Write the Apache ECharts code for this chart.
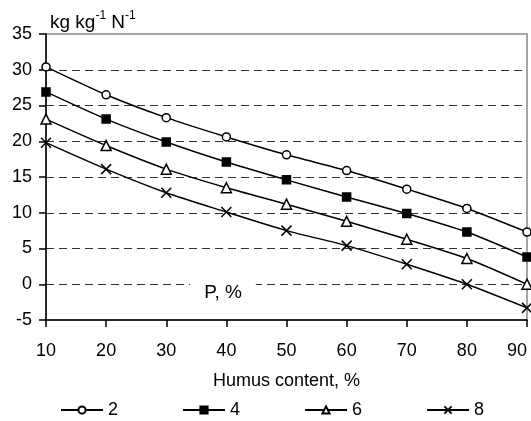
<!DOCTYPE html>
<html>
<head>
<meta charset="utf-8">
<style>html,body{margin:0;padding:0;background:#fff;}#c{width:531px;height:421px;}</style>
<script src="https://cdn.jsdelivr.net/npm/echarts@6/dist/echarts.min.js"></script>
</head>
<body>
<div id="c"></div>
<script>
const humus = [10, 20, 30, 40, 50, 60, 70, 80, 90];
const seriesNames = ['2', '4', '6', '8'];
const p2 = [30.4, 26.5, 23.3, 20.6, 18.1, 15.9, 13.3, 10.6, 7.3];
const p4 = [26.9, 23.1, 19.9, 17.1, 14.6, 12.2, 9.9, 7.3, 3.8];
const p6 = [23.1, 19.4, 16.1, 13.5, 11.2, 8.8, 6.3, 3.6, 0.0];
const p8 = [19.8, 16.1, 12.8, 10.1, 7.5, 5.4, 2.8, 0.0, -3.3];
const yMin = -5, yMax = 35, yStep = 5;
const xMin = 10, xMax = 90, xStep = 10;

const FONT = '"Liberation Sans", Arial, sans-serif';
const chart = echarts.init(document.getElementById('c'));

function pairs(vals) { return humus.map((x, i) => [x, vals[i]]); }

const splitColors = [];
for (let v = yMin; v <= yMax; v += yStep) {
  splitColors.push((v === yMin || v === yMax) ? 'rgba(0,0,0,0)' : '#333');
}

const symbols = ['circle', 'rect', 'triangle', 'path://M0,0L10,10M10,0L0,10'];
const fills = ['#fff', '#000', '#fff', '#000'];
const sizes = [8, 8, 10, 10];
const allVals = [p2, p4, p6, p8];

const series = allVals.map((vals, i) => ({
  name: seriesNames[i],
  type: 'line',
  data: pairs(vals),
  smooth: 0.25,
  symbol: symbols[i],
  symbolSize: sizes[i],
  showAllSymbol: true,
  lineStyle: { color: '#000', width: 1.5 },
  itemStyle: { color: fills[i], borderColor: '#000', borderWidth: 1.5 },
  emphasis: { disabled: true },
  z: 3
}));

chart.setOption({
  animation: false,
  textStyle: { fontFamily: FONT },
  grid: {
    left: 46, right: 4, top: 34, bottom: 101,
    show: true, borderColor: '#888', borderWidth: 1.5, backgroundColor: 'transparent'
  },
  legend: {
    data: seriesNames,
    left: 60, top: 401, padding: 0,
    itemWidth: 42, itemHeight: 9, itemGap: 64,
    textStyle: { fontSize: 18, color: '#000', fontFamily: FONT },
    selectedMode: false
  },
  xAxis: {
    type: 'value', min: xMin, max: xMax, interval: xStep,
    name: 'Humus content, %', nameLocation: 'middle', nameGap: 52,
    nameTextStyle: { fontSize: 18, color: '#000', fontFamily: FONT },
    axisLine: { onZero: false, lineStyle: { color: '#000', width: 1.5 } },
    axisTick: { show: true, length: 7, lineStyle: { color: '#000', width: 1.5 } },
    axisLabel: { fontSize: 18, color: '#000', margin: 22, alignMaxLabel: 'right', fontFamily: FONT },
    splitLine: { show: false }
  },
  yAxis: {
    type: 'value', min: yMin, max: yMax, interval: yStep,
    axisLine: { show: true, lineStyle: { color: '#000', width: 1.5 } },
    axisTick: { show: true, length: 7, lineStyle: { color: '#000', width: 1.5 } },
    axisLabel: { fontSize: 18, color: '#000', margin: 14, fontFamily: FONT },
    splitLine: { show: true, lineStyle: { color: splitColors, type: [8, 5], width: 1 } }
  },
  graphic: [
    {
      type: 'text', left: 50, top: 10, z: 10,
      style: {
        text: '{a|kg kg}{s|-1}{a| N}{s|-1}',
        rich: {
          a: { fontSize: 19, fontFamily: FONT, fill: '#000', lineHeight: 22, verticalAlign: 'bottom' },
          s: { fontSize: 12, fontFamily: FONT, fill: '#000', lineHeight: 22, verticalAlign: 'top' }
        }
      }
    },
    {
      type: 'text', x: 223, y: 293, z: 10,
      style: {
        text: 'P, %', fontSize: 19, fontFamily: FONT, fill: '#000',
        align: 'center', verticalAlign: 'middle',
        backgroundColor: '#fff', padding: [7, 14, 2, 14]
      }
    }
  ],
  series: series
});
</script>
</body>
</html>
